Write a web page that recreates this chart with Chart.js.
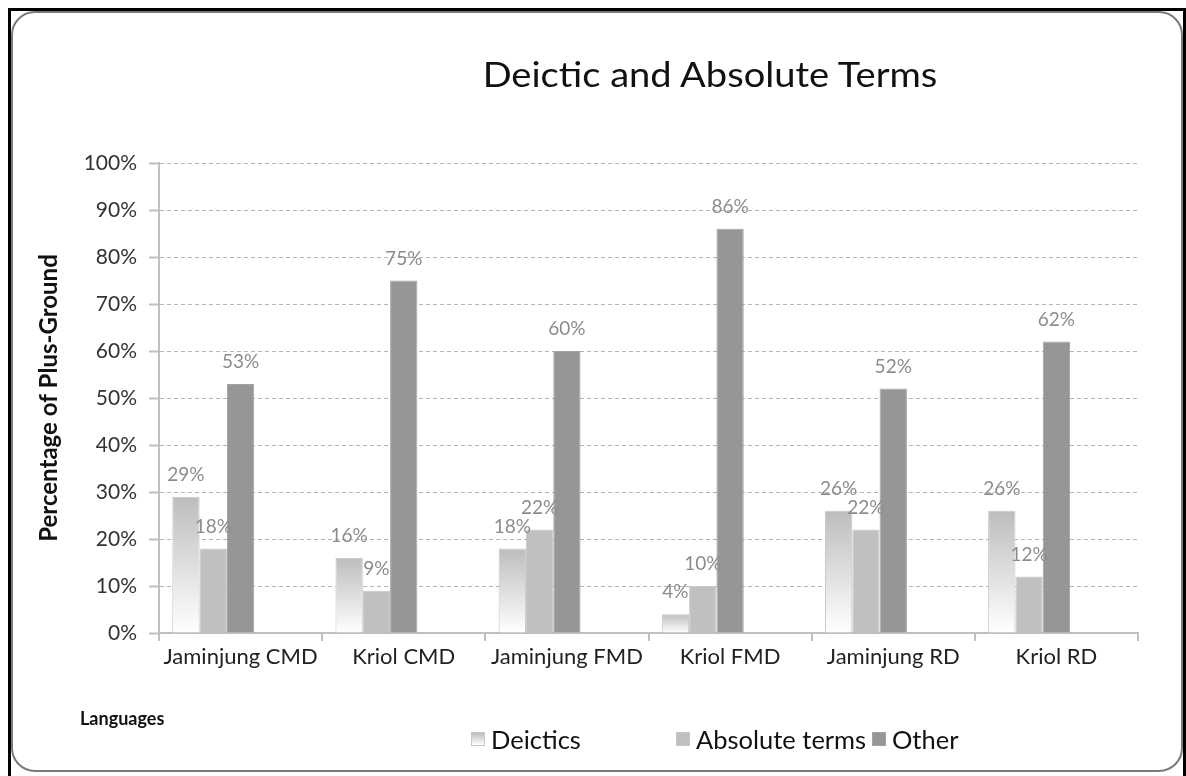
<!DOCTYPE html>
<html>
<head>
<meta charset="utf-8">
<script src="https://cdn.jsdelivr.net/npm/chart.js@4.4.1/dist/chart.umd.min.js"></script>
<style>
    html, body { margin: 0; padding: 0; background: #fff; overflow: hidden; }
    body { width: 1186px; height: 776px; position: relative; font-family: Lato, "Open Sans", sans-serif; }
    .frame { position: absolute; left: 8px; top: 8px; width: 1172px; height: 800px; border: 3px solid #000; }
    .inner { position: absolute; left: 0; top: 0; right: 0; height: 757px; border: 2px solid #7a7a7a; border-radius: 24px; }
    #chart { position: absolute; left: 0; top: 0; }
    .title { position: absolute; left: 410px; width: 600px; top: 53px; text-align: center; font-size: 34px; color: #111; transform: scaleX(1.12); transform-origin: 300px 0; }
    .xname { position: absolute; left: 80px; top: 707px; font-size: 18px; font-weight: bold; color: #111; }
    #legend { position: absolute; left: 471px; top: 724px; font-size: 25px; color: #111; }
    #legend .item { position: absolute; top: 0; white-space: nowrap; display: flex; align-items: center; }
    #legend .box { width: 14px; height: 14px; margin-right: 6px; box-sizing: border-box; }
    #legend .txt { display: inline-block; transform: scaleX(1.02); transform-origin: 0 0; }
</style>
</head>
<body>
<div class="frame"><div class="inner"></div></div>
<canvas id="chart" width="1186" height="776"></canvas>
<div class="title">Deictic and Absolute Terms</div>
<div class="xname">Languages</div>
<div id="legend"></div>

<script>
const categories = ['Jaminjung CMD', 'Kriol CMD', 'Jaminjung FMD', 'Kriol FMD', 'Jaminjung RD', 'Kriol RD'];
const deictics = [29, 16, 18, 4, 26, 26];
const absoluteTerms = [18, 9, 22, 10, 22, 12];
const other = [53, 75, 60, 86, 52, 62];
// two empty series keep the Excel-style spacing (bars sit left in each category)
const spacer = [null, null, null, null, null, null];
const yTicks = [0, 10, 20, 30, 40, 50, 60, 70, 80, 90, 100];

function deicticsFill(context) {
    const chart = context.chart;
    const area = chart.chartArea;
    if (!area || context.raw == null) {
        return '#d8d8d8';
    }
    const top = chart.scales.y.getPixelForValue(context.raw);
    const grad = chart.ctx.createLinearGradient(0, top, 0, area.bottom);
    grad.addColorStop(0, '#bdbdbd');
    grad.addColorStop(1, '#ffffff');
    return grad;
}

// percent labels above the bars
const valueLabels = {
    id: 'valueLabels',
    afterDatasetsDraw(chart) {
        const ctx = chart.ctx;
        ctx.save();
        ctx.font = '19px Lato';
        ctx.fillStyle = '#8c8c8c';
        ctx.textAlign = 'center';
        ctx.textBaseline = 'middle';
        chart.data.datasets.forEach((ds, i) => {
            chart.getDatasetMeta(i).data.forEach((bar, j) => {
                const v = ds.data[j];
                if (v == null) return;
                ctx.fillText(v + '%', bar.x, bar.y - 22);
            });
        });
        ctx.restore();
    }
};

const datasets = [
    { label: 'Deictics', data: deictics, backgroundColor: deicticsFill, borderColor: '#c6c6c6', borderWidth: 1, legendColor: 'linear-gradient(#bdbdbd, #ffffff)' },
    { label: 'Absolute terms', data: absoluteTerms, backgroundColor: '#c0c0c0', borderColor: '#c6c6c6', borderWidth: 1, legendColor: '#c0c0c0' },
    { label: 'Other', data: other, backgroundColor: '#969696', borderColor: '#a2a2a2', borderWidth: 1, legendColor: '#969696' },
    { label: '', data: spacer },
    { label: '', data: spacer }
];
const legendLeft = [0, 205, 401];

const ctx = document.getElementById('chart').getContext('2d');
const chart = new Chart(ctx, {
    type: 'bar',
    data: { labels: categories, datasets: datasets },
    plugins: [valueLabels],
    options: {
        responsive: false,
        animation: false,
        layout: { padding: { left: 30, top: 163, right: 48, bottom: 93 } },
        datasets: { bar: { categoryPercentage: 0.837, barPercentage: 1.0 } },
        plugins: {
            legend: { display: false },
            title: { display: false },
            tooltip: { enabled: false }
        },
        scales: {
            x: {
                grid: { offset: true, drawOnChartArea: false, drawTicks: true, tickLength: 8, color: '#bfbfbf', lineWidth: 2 },
                border: { color: '#bfbfbf', width: 2 },
                ticks: { color: '#222', padding: 3, font: { family: 'Lato', size: 22 }, maxRotation: 0 },
                afterFit: function(scale) { scale.height = 50; }
            },
            y: {
                min: 0,
                max: 100,
                afterBuildTicks: function(scale) {
                    scale.ticks = yTicks.map(v => ({ value: v }));
                },
                grid: { color: '#b4b4b4', lineWidth: 1, tickLength: 10, tickColor: '#bfbfbf', tickWidth: 2 },
                border: { color: '#bfbfbf', width: 2, dash: [4, 3] },
                ticks: {
                    color: '#333',
                    padding: 12,
                    font: { family: 'Lato', size: 21 },
                    callback: function(value) {
                        return value + '%';
                    }
                },
                title: {
                    display: true,
                    text: 'Percentage of Plus-Ground',
                    color: '#111',
                    padding: { top: 5, bottom: 0 },
                    font: { family: 'Lato', size: 24, weight: 'bold' }
                },
                afterFit: function(scale) { scale.width = 129; }
            }
        }
    }
});

// legend built from the three real series
const legendEl = document.getElementById('legend');
datasets.slice(0, 3).forEach((ds, i) => {
    const item = document.createElement('div');
    item.className = 'item';
    item.style.left = legendLeft[i] + 'px';
    const box = document.createElement('span');
    box.className = 'box';
    box.style.background = ds.legendColor;
    box.style.border = '1px solid ' + ds.borderColor;
    const text = document.createElement('span');
    text.className = 'txt';
    text.textContent = ds.label;
    item.appendChild(box);
    item.appendChild(text);
    legendEl.appendChild(item);
});
</script>
</body>
</html>
